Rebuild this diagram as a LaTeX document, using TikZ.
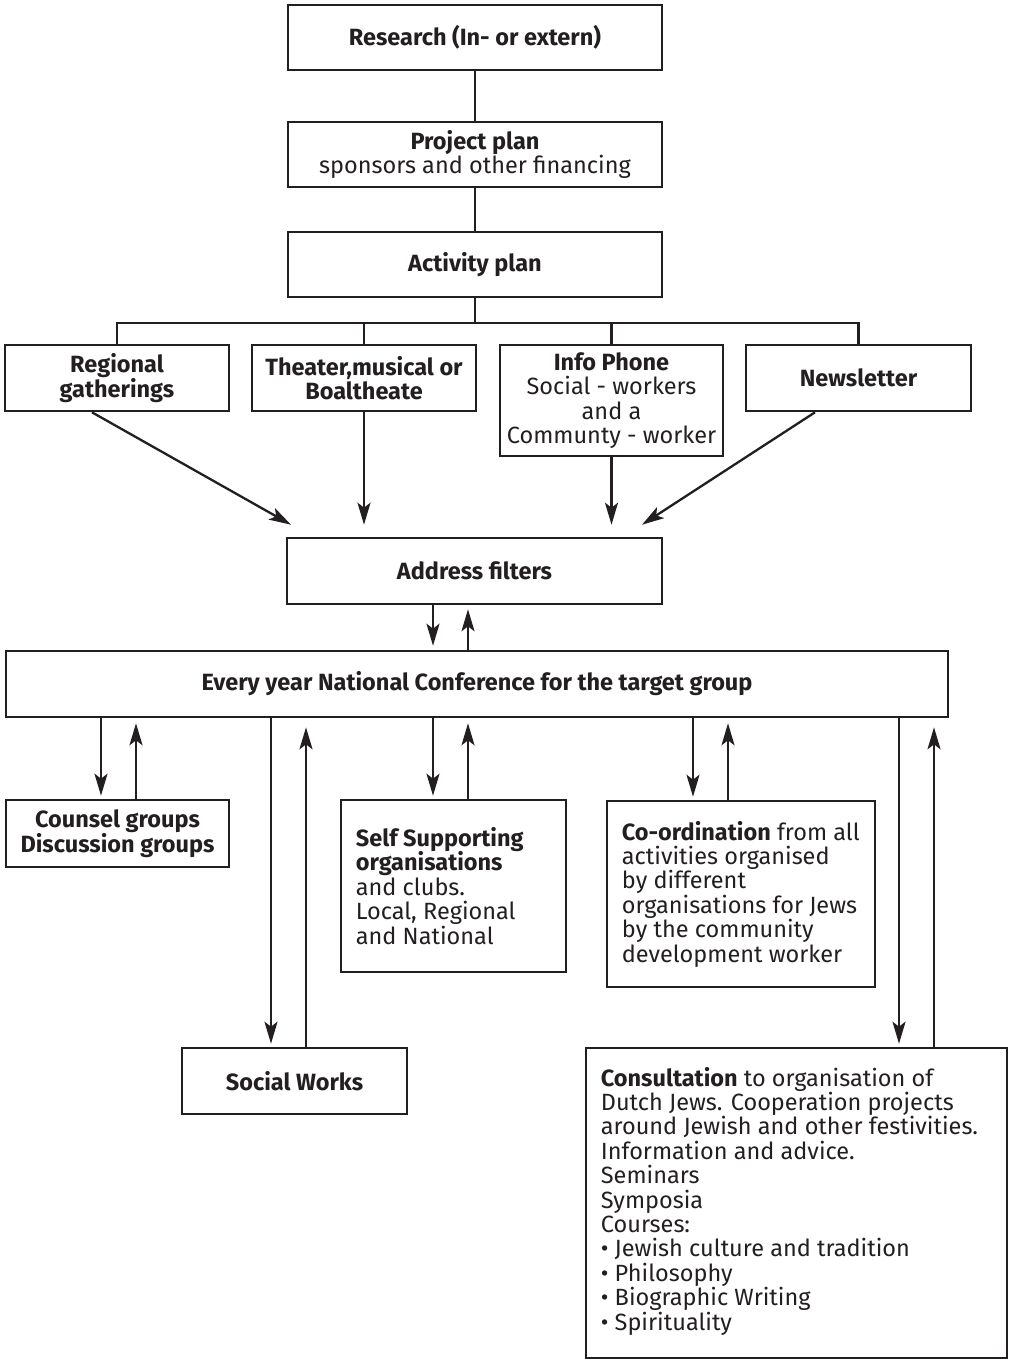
\documentclass[tikz,border=0pt]{standalone}
\usepackage{fontspec}
\setmainfont{Fira Sans}
\usetikzlibrary{arrows.meta,calc}
\definecolor{ink}{HTML}{231F20}
\newcommand\dfont{\fontsize{23.5}{24.4}\selectfont}
\begin{document}
\begin{tikzpicture}[x=1pt,y=-1pt,
  box/.style={draw=ink, line width=2.6pt, inner sep=0pt, text=ink, align=center, font=\dfont},
  txt/.style={inner sep=0pt, text=ink, align=left, font=\dfont, anchor=west},
  conn/.style={draw=ink, line width=2.3pt},
  arr/.style={conn, -{Stealth[length=22pt,width=13pt,inset=5pt]}}]
\useasboundingbox (0,0) rectangle (1012,1359);
\fill[white] (0,0) rectangle (1012,1359);

% top chain
\node[box, minimum width=374pt, minimum height=65pt] (research) at (475,37.5) {\bfseries Research (In- or extern)};
\node[box, minimum width=374pt, minimum height=65pt] (project) at (475,154.5) {\textbf{Project plan}\\sponsors and other financing};
\node[box, minimum width=374pt, minimum height=65pt] (activity) at (475,264.5) {\bfseries Activity plan};

% activities
\node[box, minimum width=224pt, minimum height=66pt] (regional) at (117,378) {\bfseries Regional\\\bfseries gatherings};
\node[box, minimum width=224pt, minimum height=66pt] (theater) at (364,378) {\bfseries Theater,musical or\\\bfseries Boaltheate};
\node[box, minimum width=223pt, minimum height=111pt] (info) at (611.5,400.5) {\textbf{Info Phone}\\Social - workers\\and a\\Communty - worker};
\node[box, minimum width=225pt, minimum height=66pt] (news) at (858.5,378) {\bfseries Newsletter};

\node[box, minimum width=375pt, minimum height=66pt] (addr) at (474.5,571) {\bfseries Address filters};
\node[box, minimum width=942pt, minimum height=66pt] (conf) at (477,684) {\bfseries Every year National Conference for the target group};

% lower boxes
\node[box, minimum width=223pt, minimum height=67pt] (counsel) at (117.5,833.5) {\bfseries Counsel groups\\\bfseries Discussion groups};
\node[box, minimum width=225pt, minimum height=172pt] (self) at (453.5,886) {};
\node[txt] (selftxt) at ([xshift=16pt]self.west) {\textbf{Self Supporting}\\\textbf{organisations}\\and clubs.\\Local, Regional\\and National};
\node[box, minimum width=268pt, minimum height=186pt] (coord) at (741,894) {};
\node[txt] (coordtxt) at ([xshift=16pt]coord.west) {\textbf{Co-ordination} from all\\activities organised\\by different\\organisations for Jews\\by the community\\development worker};
\node[box, minimum width=225pt, minimum height=66pt] (social) at (294.5,1081) {\bfseries Social Works};
\node[box, minimum width=421pt, minimum height=310pt] (consult) at (796.5,1203) {};
\node[txt] (consulttxt) at ([xshift=16pt,yshift=2pt]consult.west) {\textbf{Consultation} to organisation of\\Dutch Jews. Cooperation projects\\around Jewish and other festivities.\\Information and advice.\\Seminars\\Symposia\\Courses:\\• Jewish culture and tradition\\• Philosophy\\• Biographic Writing\\• Spirituality};

% top connectors
\draw[conn] (research) -- (project);
\draw[conn] (project) -- (activity);
\coordinate (bus) at (475,323);
\draw[conn] (activity.south) -- (bus);
\draw[conn] (regional.north) |- (bus) -| (news.north);
\draw[conn] (theater.north) -- (theater.north |- bus);
\draw[conn] (info.north) -- (info.north |- bus);

% arrows into address filters
\coordinate (tgt) at ([yshift=12pt]addr.north);
\draw[arr] ([xshift=-25pt]regional.south) -- ([xshift=-183.5pt]tgt);
\draw[arr] (theater.south) -- (theater.south |- tgt);
\draw[arr] (info.south) -- (info.south |- tgt);
\draw[arr] ([xshift=-43.5pt]news.south) -- ([xshift=167.5pt]tgt);

% address filters <-> conference
\draw[arr, shorten >=4pt] ([xshift=-41.5pt]addr.south) -- ([xshift=-41.5pt]addr.south |- conf.north);
\draw[arr, shorten >=4pt] ([xshift=-6.5pt]addr.south |- conf.north) -- ([xshift=-6.5pt]addr.south);

% conference <-> lower boxes
\draw[arr, shorten >=3pt] ([xshift=-16.5pt]counsel.north |- conf.south) -- ([xshift=-16.5pt]counsel.north);
\draw[arr, shorten >=5pt] ([xshift=18.5pt]counsel.north) -- ([xshift=18.5pt]counsel.north |- conf.south);

\draw[arr, shorten >=3pt] ([xshift=-23.5pt]social.north |- conf.south) -- ([xshift=-23.5pt]social.north);
\draw[arr, shorten >=9pt] ([xshift=11.5pt]social.north) -- ([xshift=11.5pt]social.north |- conf.south);

\draw[arr, shorten >=3pt] ([xshift=-20.5pt]self.north |- conf.south) -- ([xshift=-20.5pt]self.north);
\draw[arr, shorten >=5pt] ([xshift=14.5pt]self.north) -- ([xshift=14.5pt]self.north |- conf.south);

\draw[arr, shorten >=3pt] ([xshift=-48pt]coord.north |- conf.south) -- ([xshift=-48pt]coord.north);
\draw[arr, shorten >=5pt] ([xshift=-13pt]coord.north) -- ([xshift=-13pt]coord.north |- conf.south);

\draw[arr, shorten >=3pt] ([xshift=102.5pt]consult.north |- conf.south) -- ([xshift=102.5pt]consult.north);
\draw[arr, shorten >=9pt] ([xshift=137.5pt]consult.north) -- ([xshift=137.5pt]consult.north |- conf.south);
\end{tikzpicture}
\end{document}
